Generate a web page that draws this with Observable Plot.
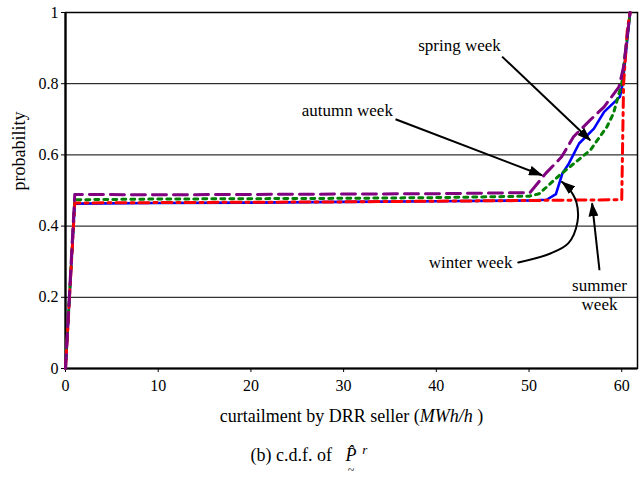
<!DOCTYPE html>
<html>
<head>
<meta charset="utf-8">
<script src="https://cdn.jsdelivr.net/npm/d3@7"></script>
<script src="https://cdn.jsdelivr.net/npm/@observablehq/plot@0.6"></script>
<style>
  body { margin: 0; background: #fff; }
  svg, svg text { font-family: 'Liberation Serif', 'Times New Roman', serif !important; }
</style>
</head>
<body>
<div id="chart"></div>
<script>
// ---- data ----
const xTicks = [0, 10, 20, 30, 40, 50, 60];
const yTicks = [0, 0.2, 0.4, 0.6, 0.8, 1];
const yTickLabels = ["0", "0.2", "0.4", "0.6", "0.8", "1"];

const winterX = [0, 1, 10, 20, 30, 40, 50, 51.9, 52.9, 53.6, 54.3, 55.4, 57.0, 58.1, 59.8, 60.1, 60.9];
const winterY = [0, 0.463, 0.465, 0.466, 0.468, 0.470, 0.472, 0.474, 0.49, 0.548, 0.576, 0.632, 0.674, 0.721, 0.763, 0.80, 1.0];

const springX = [0, 1, 10, 20, 30, 40, 50, 51.1, 53.3, 56.6, 58.4, 59.1, 60.0, 60.9];
const springY = [0, 0.474, 0.476, 0.477, 0.478, 0.480, 0.484, 0.491, 0.543, 0.613, 0.679, 0.716, 0.80, 1.0];

const summerX = [0, 1, 10, 20, 30, 40, 50, 60.0, 60.2, 60.6, 60.9];
const summerY = [0, 0.465, 0.466, 0.467, 0.468, 0.470, 0.472, 0.474, 0.80, 0.95, 1.0];

const autumnX = [0, 1, 10, 20, 30, 40, 50.1, 51.8, 53.5, 54.8, 56.6, 58.1, 59.7, 60.2, 60.9];
const autumnY = [0, 0.489, 0.488, 0.489, 0.490, 0.491, 0.494, 0.548, 0.594, 0.651, 0.698, 0.735, 0.791, 0.848, 1.0];

// annotation labels and arrows
const labelText = ["spring week", "autumn week", "winter week", "summer\nweek"];
const labelX = [42.5, 30.4, 43.7, 57.6];
const labelY = [0.909, 0.726, 0.298, 0.208];

const arrowX1 = [47.1, 35.6, 57.6];
const arrowY1 = [0.876, 0.700, 0.276];
const arrowX2 = [56.6, 51.4, 56.8];
const arrowY2 = [0.641, 0.543, 0.464];

const curveArrowX = [48.84, 52.3, 54.25, 55.22, 55.11, 54.35, 53.56];
const curveArrowY = [0.298, 0.323, 0.352, 0.411, 0.467, 0.504, 0.524];

// ---- build tables ----
const toRows = (xs, ys) => xs.map((x, i) => ({x, y: ys[i]}));
const winter = toRows(winterX, winterY);
const spring = toRows(springX, springY);
const summer = toRows(summerX, summerY);
const autumn = toRows(autumnX, autumnY);
const labels = labelText.map((t, i) => ({t, x: labelX[i], y: labelY[i]}));
const arrows = arrowX1.map((x1, i) => ({x1, y1: arrowY1[i], x2: arrowX2[i], y2: arrowY2[i]}));
const curveArrow = toRows(curveArrowX, curveArrowY);

const serif = "'Liberation Serif', 'Times New Roman', serif";

const plot = Plot.plot({
  width: 640,
  height: 477,
  marginLeft: 65,
  marginRight: 3,
  marginTop: 12,
  marginBottom: 109,
  style: {fontFamily: serif, fontSize: "16px", color: "black", background: "white"},
  x: {domain: [0, 61.7]},
  y: {domain: [0, 1]},
  marks: [
    Plot.gridY(yTicks.slice(1, -1), {stroke: "black", strokeOpacity: 1, strokeWidth: 1}),
    Plot.axisY(yTicks, {tickSize: 4, tickPadding: 3, fontSize: 16, fontFamily: serif, tickFormat: (d, i) => yTickLabels[i], label: null, stroke: "black"}),
    Plot.axisX(xTicks, {tickSize: 4, tickPadding: 7, fontSize: 16, fontFamily: serif, label: null, stroke: "black"}),
    Plot.frame({stroke: "black", strokeWidth: 1.5}),
    Plot.ruleX([0], {stroke: "black", strokeWidth: 2.2}),
    Plot.ruleY([0], {stroke: "black", strokeWidth: 2.2}),
    Plot.line(winter, {x: "x", y: "y", stroke: "#0000ff", strokeWidth: 2.6}),
    Plot.line(spring, {x: "x", y: "y", stroke: "#008000", strokeWidth: 3, strokeDasharray: "4,5"}),
    Plot.line(summer, {x: "x", y: "y", stroke: "#ff0000", strokeWidth: 3, strokeDasharray: "10,5,3,5"}),
    Plot.line(autumn, {x: "x", y: "y", stroke: "#800080", strokeWidth: 3, strokeDasharray: "14,7"}),
    Plot.link(arrows, {x1: "x1", y1: "y1", x2: "x2", y2: "y2", stroke: "black", strokeWidth: 2, className: "annot-arrow"}),
    Plot.line(curveArrow, {x: "x", y: "y", curve: "catmull-rom", stroke: "black", strokeWidth: 2, className: "annot-arrow"}),
    Plot.text(labels, {x: "x", y: "y", text: "t", fontSize: 17, fontFamily: serif, lineHeight: 1.1, fill: "black"}),
    Plot.text(["probability"], {frameAnchor: "left", dx: -46, rotate: -90, fontSize: 18, fontFamily: serif, fill: "black"}),
    Plot.text(["curtailment by DRR seller (MWh/h )"], {frameAnchor: "bottom", dy: 53, fontSize: 18, fontFamily: serif, fill: "black", className: "xlabel"}),
    Plot.text(["(b) c.d.f. of P r"], {frameAnchor: "bottom-left", dx: 185, dy: 92, textAnchor: "start", fontSize: 18, fontFamily: serif, fill: "black", className: "caption"})
  ]
});

// arrowhead marker
const svg = d3.select(plot);
const defs = svg.insert("defs", ":first-child");
defs.append("marker")
  .attr("id", "ahead")
  .attr("viewBox", "0 0 14 10")
  .attr("refX", 13)
  .attr("refY", 5)
  .attr("markerWidth", 14)
  .attr("markerHeight", 10)
  .attr("markerUnits", "userSpaceOnUse")
  .attr("orient", "auto")
  .append("path")
  .attr("d", "M0,0L14,5L0,10Z")
  .attr("fill", "black");
svg.selectAll(".annot-arrow path, .annot-arrow line").attr("marker-end", "url(#ahead)");

// rich text: italic units in x label
svg.selectAll(".xlabel text").each(function() {
  const t = d3.select(this);
  t.text(null);
  t.append("tspan").text("curtailment by DRR seller (");
  t.append("tspan").attr("font-style", "italic").text("MWh/h");
  t.append("tspan").text(" )");
});
// caption with hat / tilde / superscript
svg.selectAll(".caption text").each(function() {
  const t = d3.select(this);
  t.text(null);
  t.append("tspan").text("(b) c.d.f. of \u2002");
  t.append("tspan").attr("font-style", "italic").text("P\u0302");
  t.append("tspan").attr("font-style", "italic").attr("font-size", 13).attr("dy", -7).text("\u2009 r");
});
svg.append("text")
  .attr("x", 351).attr("y", 474)
  .attr("font-size", 12).attr("text-anchor", "middle")
  .attr("fill", "black")
  .text("~");

document.getElementById("chart").appendChild(plot);
</script>
</body>
</html>
